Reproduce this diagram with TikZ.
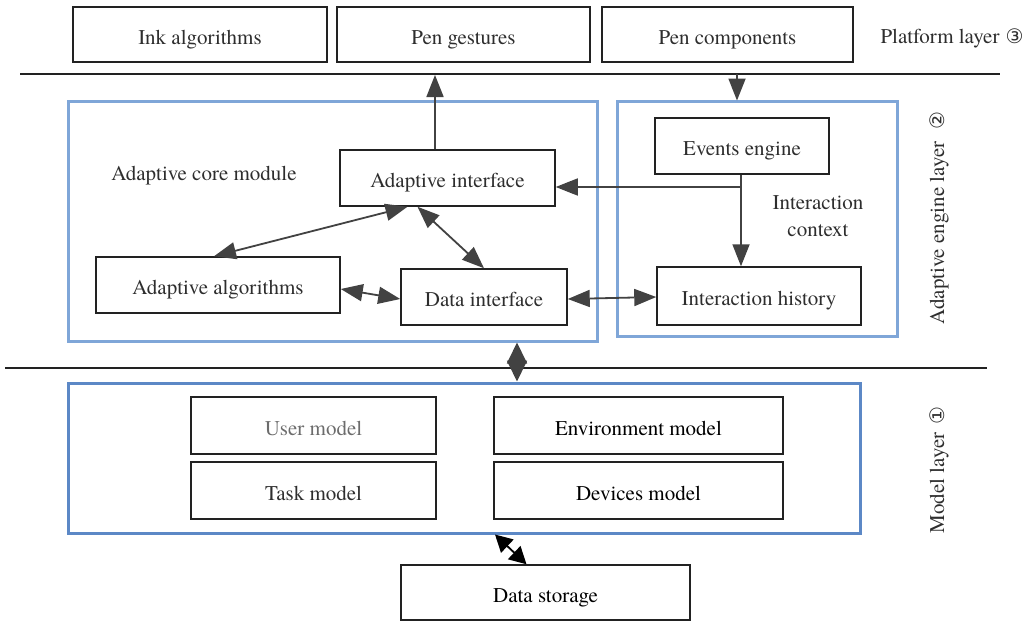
\documentclass[tikz,border=0pt]{standalone}
\usepackage{fontspec}
\setmainfont{TeX Gyre Termes}
\newfontfamily\symfont{DejaVu Sans}
\usetikzlibrary{arrows.meta}
\definecolor{txt}{HTML}{2E2E2E}
\definecolor{edge}{HTML}{222222}
\definecolor{arrc}{HTML}{424242}
\definecolor{lblue}{HTML}{7FA6D8}
\definecolor{dblue}{HTML}{5C88C6}
\tikzset{
  box/.style={draw=edge, line width=1.5pt, text=txt, font=\fontsize{21pt}{25pt}\selectfont, inner sep=0pt, text height=23pt, text depth=4pt},
  bluebox/.style={draw=lblue, line width=3pt, inner sep=0pt},
  arr/.style={draw=arrc, line width=1.8pt, -{Triangle[length=22pt,width=17pt]}},
  darr/.style={draw=arrc, line width=1.8pt, {Triangle[length=22pt,width=17pt]}-{Triangle[length=22pt,width=17pt]}},
  fatarr/.style={draw=arrc, line width=1.8pt, {Triangle[length=21pt,width=20pt]}-{Triangle[length=21pt,width=20pt]}},
  blackarr/.style={draw=black, line width=1.8pt, {Triangle[length=17pt,width=18pt]}-{Triangle[length=17pt,width=18pt]}},
  sep/.style={draw=edge, line width=1.5pt},
  lbl/.style={text=txt, font=\fontsize{21pt}{25pt}\selectfont, inner sep=0pt, align=center},
}
\begin{document}
\begin{tikzpicture}[x=1pt,y=-1pt]
\useasboundingbox (0,0) rectangle (1029,621);
% layer separators
\coordinate (s1a) at (20,74); \coordinate (s1b) at (1000,74);
\coordinate (s2a) at (5,368); \coordinate (s2b) at (987,368);
\draw[sep] (s1a) -- (s1b);
\draw[sep] (s2a) -- (s2b);
% platform layer
\node[box, minimum width=254pt, minimum height=55pt] (ink) at (200,34.5) {Ink algorithms};
\node[box, minimum width=253pt, minimum height=55pt] (gest) at (463.5,34.5) {Pen gestures};
\node[box, minimum width=251pt, minimum height=55pt] (comp) at (727.5,34.5) {Pen components};
\node[lbl] (plat) at (952,38) {Platform layer\hspace{6pt}{\symfont\fontsize{20pt}{22pt}\selectfont ③}};
% adaptive engine layer
\node[bluebox, minimum width=529pt, minimum height=240pt] (core) at (332.5,221) {};
\node[bluebox, minimum width=280pt, minimum height=235pt] (ctx) at (757,218.5) {};
\node[lbl] (coret) at (204,176) {Adaptive core module};
\node[box, minimum width=215pt, minimum height=56pt] (aint) at (447.5,178) {Adaptive interface};
\node[box, minimum width=244pt, minimum height=56pt] (aalg) at (218,285) {Adaptive algorithms};
\node[box, minimum width=166pt, minimum height=56pt] (dint) at (484,297) {Data interface};
\node[box, minimum width=174pt, minimum height=56pt] (ev) at (742,146) {Events engine};
\node[box, minimum width=204pt, minimum height=58pt] (ih) at (759,296) {Interaction history};
\node[lbl] (ctxt) at (818,216) {Interaction\\[2pt]context};
\node[lbl, rotate=90] (eng) at (939,218) {Adaptive engine layer\hspace{12pt}{\symfont\fontsize{20pt}{22pt}\selectfont ②}};
% model layer
\node[bluebox, draw=dblue, minimum width=792pt, minimum height=150pt] (model) at (464,458) {};
\node[box, minimum width=245pt, minimum height=57pt, text=gray!85!black] (user) at (313.5,425.5) {User model};
\node[box, minimum width=289pt, minimum height=57pt, text=black] (env) at (638.5,425.5) {Environment model};
\node[box, minimum width=245pt, minimum height=57pt] (task) at (313.5,490.5) {Task model};
\node[box, minimum width=289pt, minimum height=57pt, text=black] (dev) at (638.5,490.5) {Devices model};
\node[lbl, rotate=90] (mod) at (939,470) {Model layer\hspace{8pt}{\symfont\fontsize{20pt}{22pt}\selectfont ①}};
\node[box, minimum width=289pt, minimum height=55pt, text=black] (store) at (545.5,592.5) {Data storage};
% connectors
\coordinate (up) at (435,75);
\draw[arr] (aint.north -| up) -- (up);
\coordinate (dn) at (737,74);
\draw[arr] (dn) -- ([yshift=-1pt]ctx.north -| dn);
\coordinate (evj) at (741,187);
\draw[arr] (ev.south -| evj) -- (ih.north -| evj);
\draw[arr] (evj) -- (aint.east |- evj);
\draw[darr] ([xshift=-4pt]aalg.north) -- ([xshift=-40pt]aint.south);
\draw[darr] ([xshift=-30pt]aint.south) -- (dint.north);
\draw[darr] ([yshift=-4pt]aalg.east) -- ([yshift=-2pt]dint.west);
\draw[darr] ([yshift=-2pt]dint.east) -- ([yshift=-1pt]ih.west);
\coordinate (mid) at (517,0);
\draw[fatarr] (core.south -| mid) -- (model.north -| mid);
\draw[blackarr] ([xshift=31pt]model.south) -- ([xshift=-19pt]store.north);
\end{tikzpicture}
\end{document}
